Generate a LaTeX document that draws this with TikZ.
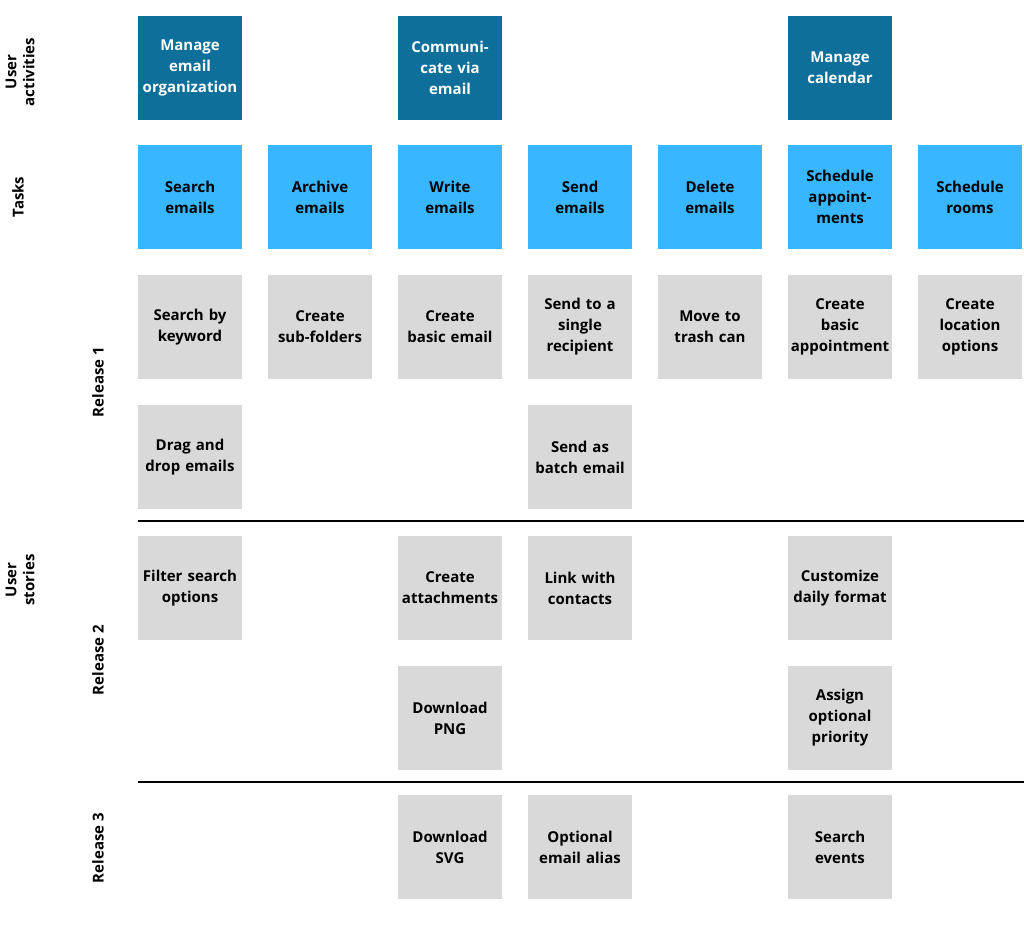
\documentclass[tikz,border=0pt]{standalone}
\usepackage{fontspec}
\setmainfont{Open Sans}
\definecolor{actblue}{HTML}{0D6F9A}
\definecolor{taskblue}{HTML}{38B6FF}
\definecolor{storygray}{HTML}{D9D9D9}
\tikzset{
  card/.style={minimum width=104pt, minimum height=104pt, inner sep=2pt,
    align=center, text width=100pt, font=\fontsize{15}{21}\selectfont\bfseries},
  activity/.style={card, fill=actblue, text=white},
  task/.style={card, fill=taskblue, text=black},
  story/.style={card, fill=storygray, text=black},
  sidelabel/.style={rotate=90, align=center, font=\fontsize{15}{18}\selectfont\bfseries}
}

\begin{document}
\begin{tikzpicture}[x=1pt, y=-1pt]
    \useasboundingbox (0,0) rectangle (1024,925);
    % user activities
    \node[activity] (act1) at (190,68) {Manage\\email\\organization};
    \node[activity] (act3) at (450,68) {Communi-\\cate via\\email};
    \node[activity] (act6) at (840,68) {Manage\\calendar};
    % tasks
    \foreach \i/\t in {1/Search\\emails, 2/Archive\\emails, 3/Write\\emails,
      4/Send\\emails, 5/Delete\\emails, 6/Schedule\\appoint-\\ments,
      7/Schedule\\rooms}{
      \node[task] (task\i) at (60+130*\i,197) {\t};
    }
    % release 1
    \foreach \i/\t in {1/Search by\\keyword, 2/Create\\sub-folders,
      3/Create\\basic email, 4/Send to a\\single\\recipient,
      5/Move to\\trash can, 6/Create\\basic\\appointment,
      7/Create\\location\\options}{
      \node[story] (ra\i) at (60+130*\i,327) {\t};
    }
    \node[story] (rb1) at (190,457) {Drag and\\drop emails};
    \node[story] (rb4) at (580,457) {Send as\\batch email};
    % release 2
    \node[story] (rc1) at (190,588) {Filter search\\options};
    \node[story] (rc3) at (450,588) {Create\\attachments};
    \node[story] (rc4) at (580,588) {Link with\\contacts};
    \node[story] (rc6) at (840,588) {Customize\\daily format};
    \node[story] (rd3) at (450,718) {Download\\PNG};
    \node[story] (rd6) at (840,718) {Assign\\optional\\priority};
    % release 3
    \node[story] (re3) at (450,847) {Download\\SVG};
    \node[story] (re4) at (580,847) {Optional\\email alias};
    \node[story] (re6) at (840,847) {Search\\events};
    % release dividers
    \coordinate (DivOneL) at (138,521);
    \coordinate (DivOneR) at (1024,521);
    \coordinate (DivTwoL) at (138,782);
    \coordinate (DivTwoR) at (1024,782);
    \draw [line width=2.5pt] (DivOneL) -- (DivOneR);
    \draw [line width=2.5pt] (DivTwoL) -- (DivTwoR);
    % side labels
    \node[sidelabel] (lblact) at (20,72) {User\\activities};
    \node[sidelabel] (lbltask) at (18,197) {Tasks};
    \node[sidelabel] (lblstory) at (20,580) {User\\stories};
    \node[sidelabel] (lblrel1) at (98,382) {Release 1};
    \node[sidelabel] (lblrel2) at (98,660) {Release 2};
    \node[sidelabel] (lblrel3) at (98,848) {Release 3};
\end{tikzpicture}
\end{document}
